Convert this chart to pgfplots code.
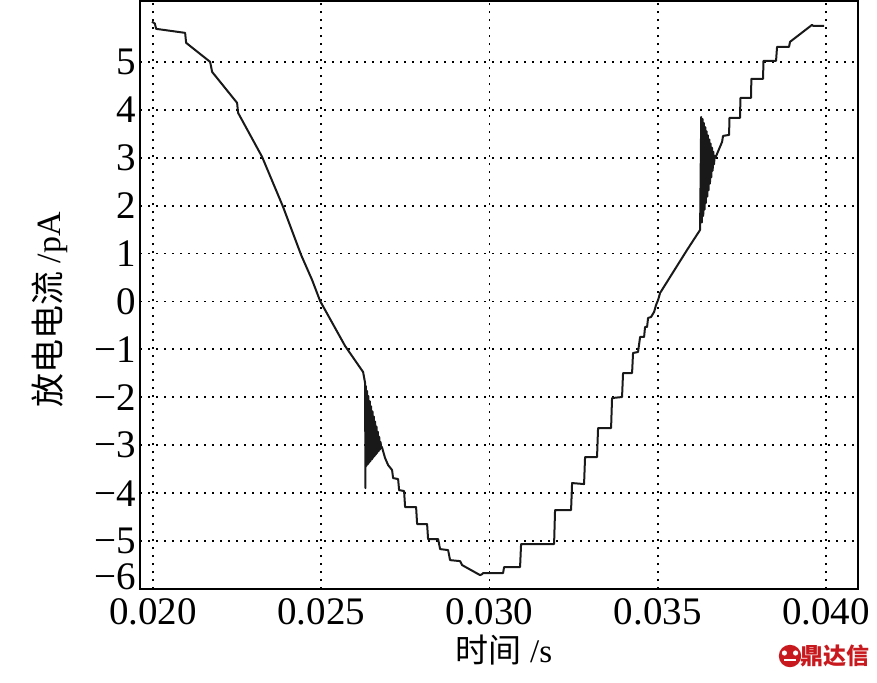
\documentclass[border=0pt]{standalone}
\usepackage{pgfplots}
\pgfplotsset{compat=1.18}
\usepackage{fontspec}
\setmainfont{Liberation Serif}
\newfontfamily\cjk{Noto Sans CJK SC}
\definecolor{curve}{RGB}{25,25,25}
\definecolor{logored}{RGB}{200,25,30}

\pgfplotstableread{
x y
0.019965 5.84
0.020050 5.80
0.020089 5.689
0.020951 5.605
0.020981 5.397
0.021694 5.000
0.021753 4.791
0.022496 4.144
0.022526 3.935
0.023239 3.017
0.023863 1.973
0.024398 0.971
0.024725 0.449
0.024963 0.010
0.025111 -0.177
0.025706 -0.929
0.026241 -1.472
0.026300 -1.701
0.026310 -3.894
0.026320 -1.764
0.026340 -3.433
0.026360 -1.870
0.026380 -3.399
0.026400 -1.976
0.026420 -3.365
0.026440 -2.083
0.026460 -3.330
0.026480 -2.189
0.026500 -3.296
0.026520 -2.295
0.026540 -3.262
0.026560 -2.401
0.026580 -3.228
0.026600 -2.507
0.026620 -3.194
0.026640 -2.613
0.026660 -3.160
0.026680 -2.720
0.026700 -3.125
0.026720 -2.826
0.026740 -3.091
0.026760 -2.932
0.026780 -3.057
0.026800 -3.038
0.026894 -3.267
0.026984 -3.413
0.027102 -3.518
0.027132 -3.685
0.027281 -3.706
0.027311 -3.935
0.027459 -3.956
0.027489 -4.290
0.027816 -4.290
0.027846 -4.645
0.028143 -4.645
0.028172 -4.958
0.028470 -4.958
0.028529 -5.167
0.028767 -5.188
0.028826 -5.397
0.029123 -5.418
0.029183 -5.501
0.029718 -5.710
0.029777 -5.689
0.029807 -5.668
0.030401 -5.668
0.030431 -5.543
0.030906 -5.543
0.030936 -5.063
0.031917 -5.063
0.031946 -4.353
0.032422 -4.353
0.032452 -3.789
0.032808 -3.810
0.032838 -3.246
0.033194 -3.246
0.033224 -2.641
0.033611 -2.641
0.033640 -2.015
0.033937 -1.994
0.033967 -1.493
0.034235 -1.493
0.034264 -1.075
0.034413 -1.054
0.034473 -0.741
0.034592 -0.741
0.034621 -0.532
0.034681 -0.532
0.034710 -0.344
0.034799 -0.324
0.034889 -0.219
0.034948 -0.073
0.035008 0.031
0.035067 0.177
0.035869 1.075
0.036256 1.493
0.036290 3.850
0.036310 1.650
0.036330 3.807
0.036350 1.785
0.036370 3.722
0.036390 1.919
0.036410 3.637
0.036430 2.054
0.036450 3.551
0.036470 2.188
0.036490 3.466
0.036510 2.323
0.036530 3.380
0.036550 2.458
0.036570 3.295
0.036590 2.592
0.036610 3.210
0.036630 2.727
0.036650 3.124
0.036670 2.861
0.036690 3.039
0.036710 2.996
0.036910 3.330
0.036939 3.455
0.037118 3.476
0.037130 3.831
0.037444 3.831
0.037455 4.248
0.037771 4.248
0.037780 4.645
0.038128 4.645
0.038140 5.021
0.038514 5.021
0.038544 5.313
0.038900 5.313
0.038930 5.418
0.039584 5.772
0.039613 5.752
0.039943 5.752
}\dischargedata

\begin{document}
\begin{tikzpicture}
\path[use as bounding box] (0,0) rectangle (438.5pt,341pt);
\begin{axis}[
  at={(70pt,46.5pt)}, anchor=south west,
  scale only axis, width=359pt, height=294pt,
  xmin=0.01961, xmax=0.04095, ymin=-6, ymax=6.27,
  xtick={0.02,0.025,0.03,0.035,0.04},
  xticklabels={0.020,0.025,0.030,0.035,0.040},
  ytick={-6,-5,-4,-3,-2,-1,0,1,2,3,4,5},
  yticklabels={\smash{\raisebox{-0.3pt}{−6}},−5,−4,−3,−2,−1,0,1,2,3,4,5},
  scaled x ticks=false,
  /pgf/number format/assume math mode=true,
  major tick length=0pt,
  tick label style={font=\fontsize{19.5}{23}\selectfont},
  yticklabel style={inner xsep=2pt, inner ysep=0pt},
  xticklabel style={inner ysep=4.5pt},
  grid=major,
  major grid style={black, line width=0.9pt, dash pattern=on 0.9pt off 3.1pt},
  axis line style={black, line width=0.8pt},
]
\addplot[curve, line width=1pt, line join=round, mark=none] table[x=x, y=y] {\dischargedata};
\end{axis}
\node[font=\fontsize{16.5}{20}\selectfont, inner sep=0pt] at (252pt,16pt) {\cjk 时间\rmfamily\ /s};
\node[font=\fontsize{17}{20}\selectfont, rotate=90] at (25pt,186pt) {\cjk 放电电流\rmfamily\ /pA};
\fill[logored] (395pt,13pt) circle (5.6pt);
\fill[white] (392.2pt,14.5pt) circle (1.3pt);
\fill[white] (397.8pt,14.5pt) circle (1.3pt);
\fill[white] (392pt,10.5pt) rectangle (398pt,11.5pt);
\node[anchor=west, inner sep=0pt, text=logored, font=\fontsize{11.5}{13}\selectfont] at (400pt,13pt) {\cjk\bfseries 鼎达信};
\end{tikzpicture}
\end{document}
